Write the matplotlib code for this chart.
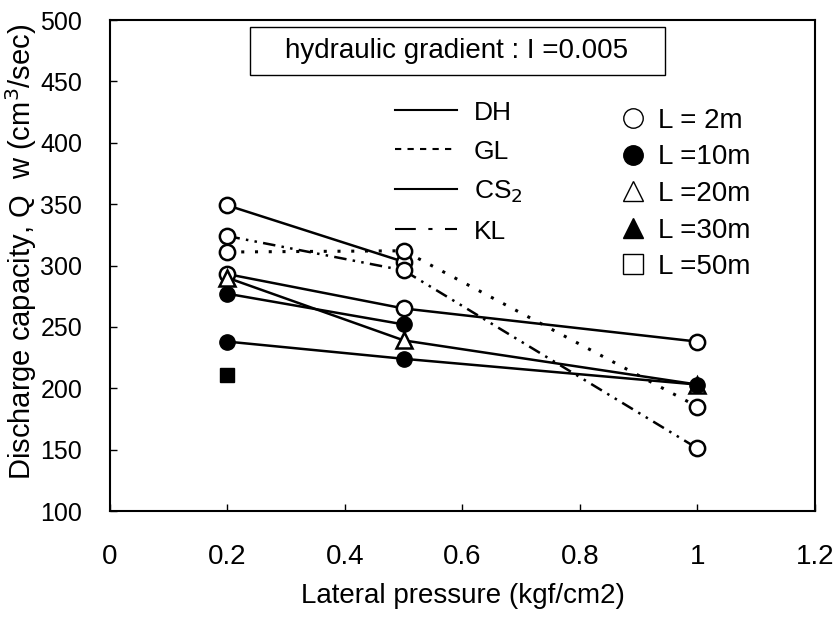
import matplotlib
matplotlib.use('Agg')
import matplotlib.pyplot as plt
from matplotlib.lines import Line2D
from matplotlib.patches import Rectangle

# lateral pressure (kgf/cm2)
x3 = [0.2, 0.5, 1.0]
x2 = [0.2, 0.5]

# discharge capacity (cm3/sec)
dh_2m = [349, 303]
gl_2m = [311, 312, 185]
kl_2m = [324, 296, 151]
cs2_2m = [293, 265, 238]
cs2_20m = [290, 239, 203]
dh_10m = [277, 252]
cs2_10m = [238, 224, 203]
x_50m = [0.2]
dh_50m = [211]

xticks = [0, 0.2, 0.4, 0.6, 0.8, 1.0, 1.2]
xticklabels = ['0', '0.2', '0.4', '0.6', '0.8', '1', '1.2']
yticks = [100, 150, 200, 250, 300, 350, 400, 450, 500]

narrow = ['Liberation Sans Narrow', 'Liberation Sans', 'DejaVu Sans']

fig = plt.figure(figsize=(8.37, 6.2), dpi=100)
ax = fig.add_axes([0.1314, 0.1758, 0.8423, 0.7919])

lw = 1.8
ms = 11
mew = 1.8

# lines
ax.plot(x2, dh_2m, color='black', lw=lw, zorder=2)
ax.plot(x3, gl_2m, color='black', lw=lw + 0.4, linestyle=(0, (1, 3.5)), zorder=2)
ax.plot(x3, kl_2m, color='black', lw=lw, linestyle=(0, (5, 2.5, 1, 2.5, 1, 2.5)), zorder=2)
ax.plot(x3, cs2_2m, color='black', lw=lw, zorder=2)
ax.plot(x3, cs2_20m, color='black', lw=lw, zorder=2)
ax.plot(x2, dh_10m, color='black', lw=lw, zorder=2)
ax.plot(x3, cs2_10m, color='black', lw=lw, zorder=2)

# markers
open_c = dict(marker='o', ms=ms, mfc='white', mec='black', mew=mew, ls='none', zorder=4)
ax.plot(x2, dh_2m, **open_c)
ax.plot(x3, gl_2m, **open_c)
ax.plot(x3, kl_2m, **open_c)
ax.plot(x3, cs2_2m, **open_c)
ax.plot(x3, cs2_20m, marker='^', ms=ms, mfc='white', mec='black', mew=mew, ls='none', zorder=4)
ax.plot(x2, dh_10m, marker='o', ms=ms, color='black', ls='none', zorder=5)
ax.plot(x3, cs2_10m, marker='o', ms=ms, color='black', ls='none', zorder=5)
ax.plot(x_50m, dh_50m, marker='s', ms=ms - 1, color='black', ls='none', zorder=5)

ax.set_xlim(0, 1.2)
ax.set_ylim(100, 500)
ax.set_xticks(xticks)
ax.set_xticklabels(xticklabels, family=narrow, fontsize=20)
ax.set_yticks(yticks)
ax.set_yticklabels([str(v) for v in yticks], family=narrow, fontsize=18)
ax.tick_params(direction='in', length=5, width=1)
ax.tick_params(axis='x', pad=24)
ax.tick_params(axis='y', pad=20)
for s in ax.spines.values():
    s.set_linewidth(1.5)

ax.set_xlabel('Lateral pressure (kgf/cm2)', family=narrow, fontsize=20, labelpad=9)
ax.set_ylabel('Discharge capacity, Q  w (cm$^3$/sec)', family=['Liberation Sans', 'DejaVu Sans'],
              fontsize=21)
ax.yaxis.set_label_coords(-0.1, 0.527)

# hydraulic gradient box
ax.add_patch(Rectangle((0.1986, 0.888), 0.588, 0.098, transform=ax.transAxes,
                       fc='white', ec='black', lw=1, zorder=6))
ax.text(0.492, 0.937, 'hydraulic gradient : I =0.005', transform=ax.transAxes,
        ha='center', va='center', family=narrow, fontsize=20, zorder=7)

# line legend
line_handles = [
    Line2D([], [], color='black', lw=1.5),
    Line2D([], [], color='black', lw=1.5, linestyle=(0, (3, 3))),
    Line2D([], [], color='black', lw=1.5),
    Line2D([], [], color='black', lw=1.5, linestyle=(0, (10, 6, 2, 6))),
]
leg1 = ax.legend(line_handles, ['DH', 'GL', 'CS$_2$', 'KL'], loc='upper left',
                 bbox_to_anchor=(0.37, 0.884), frameon=False, handlelength=2.35,
                 labelspacing=0.56, prop={'family': narrow, 'size': 19}, handletextpad=0.65)
ax.add_artist(leg1)

mk_handles = [
    Line2D([], [], marker='o', ms=14, mfc='white', mec='black', mew=1, ls='none'),
    Line2D([], [], marker='o', ms=14, color='black', ls='none'),
    Line2D([], [], marker='^', ms=15, mfc='white', mec='black', mew=1, ls='none'),
    Line2D([], [], marker='^', ms=15, color='black', ls='none'),
    Line2D([], [], marker='s', ms=14, mfc='white', mec='black', mew=1, ls='none'),
]
ax.legend(mk_handles, ['L = 2m', 'L =10m', 'L =20m', 'L =30m', 'L =50m'], loc='upper left',
          bbox_to_anchor=(0.69, 0.872), frameon=False, handlelength=0.8,
          labelspacing=0.38, prop={'family': narrow, 'size': 20}, handletextpad=0.5)

fig.savefig('out.png', dpi=100)
